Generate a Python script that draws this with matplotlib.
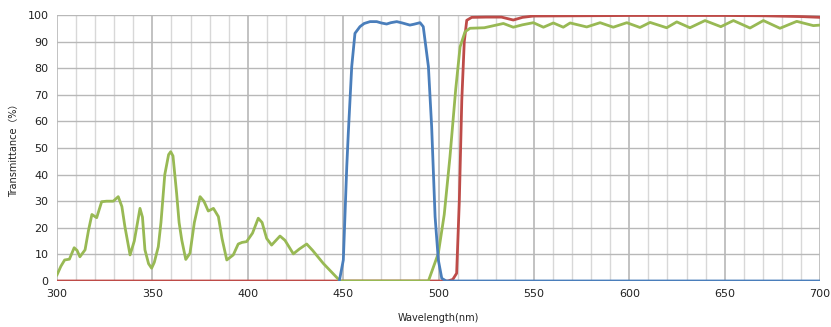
import numpy as np
import matplotlib.pyplot as plt

# wavelength (nm) / transmittance (%)
green_nm = [300, 302, 304, 306.5, 309, 310.5, 312, 314.7, 316.5, 318.3, 320.8, 323.4, 326,
            329.5, 332.1, 334, 335.6, 338.3, 340.5, 343.5, 344.8, 346.1, 348, 349.6, 351,
            353.1, 354.5, 356.5, 358.5, 359.6, 360.8, 362.7, 364, 365.4, 367.5, 369.7,
            372, 375, 377, 379.3, 382, 384.6, 386.5, 389, 392.4, 395, 397, 399.4, 402.5,
            405.5, 407.5, 409.9, 412.5, 416.9, 419.5, 423.9, 427, 430.9, 434, 439.6, 448.4,
            494.7, 499.9, 503, 506, 509, 511.3, 513.9, 516.5, 524, 534, 539.2, 544, 549.7,
            555, 560.2, 565.4, 569, 577.7, 584.7, 591.6, 598.7, 605.6, 610.9, 619.6, 624.9,
            631.8, 639.7, 648, 654.6, 663.3, 670.3, 679, 687.8, 696.5, 700]
green_t = [2.3, 5.5, 7.9, 8.2, 12.5, 11.5, 9.1, 11.7, 19, 25, 23.8, 29.8, 30,
           30, 31.7, 28, 20.4, 9.8, 15, 27.3, 24, 11.7, 6.5, 4.8, 7,
           12.9, 22, 40, 47.5, 48.6, 47, 33, 22, 15.4, 8.1, 10.4,
           22, 31.7, 30, 26.3, 27.3, 24.2, 16, 7.9, 9.8, 13.9, 14.5, 14.8, 18,
           23.6, 22, 16, 13.5, 16.9, 15.3, 10.2, 12, 13.9, 11.5, 6.6, 0,
           0, 10.4, 25, 46.7, 72, 88, 93.7, 95, 95.2, 96.8, 95.4, 96.3, 97.1,
           95.4, 97, 95.4, 97, 95.5, 97.1, 95.4, 97.1, 95.3, 97.2, 95.2, 97.4,
           95.2, 97.9, 95.6, 97.9, 95.1, 97.9, 95, 97.6, 96, 96.2]

red_nm = [300, 450, 505, 507.5, 509.5, 510.9, 512.2, 513.5, 514.8, 517.4, 525, 533,
          539.2, 544, 549.7, 600, 650, 670, 690, 700]
red_t = [0, 0, 0, 0.6, 2.9, 30, 68, 90, 98, 99.1, 99.2, 99.2,
         98.1, 99.1, 99.6, 99.8, 99.8, 99.7, 99.4, 99.1]

blue_nm = [448, 450.1, 451.9, 452.7, 454.5, 456.2, 458.8, 461, 464.1, 467.6, 470,
           472.8, 475, 478.1, 481, 485, 487, 490.3, 492, 494.7, 496.4, 498.2, 499.9,
           501.7, 504, 700]
blue_t = [0, 7.9, 43, 55.5, 80.6, 93.1, 95.6, 96.8, 97.5, 97.5, 97, 96.6, 97.1,
          97.5, 97, 96.2, 96.5, 97.1, 95.6, 80.6, 58, 24.2, 7.9, 1, 0, 0]

fig = plt.figure(figsize=(8.31, 3.27), dpi=100)
ax = fig.add_axes([0.0686, 0.1407, 0.9182, 0.8135])

ax.set_xlim(300, 700)
ax.set_ylim(0, 100)
ax.set_xticks(np.arange(300, 701, 50))
ax.set_xticks(np.arange(300, 701, 10), minor=True)
ax.set_yticks(np.arange(0, 101, 10))
ax.grid(which='major', axis='x', color='#b8b8b8', linewidth=1.2)
ax.grid(which='minor', axis='x', color='#d8d8d8', linewidth=1.0)
ax.grid(which='major', axis='y', color='#b8b8b8', linewidth=1.0)
ax.set_axisbelow(True)
for s in ax.spines.values():
    s.set_visible(False)
ax.tick_params(which='both', length=0, labelsize=8, colors='#222222', pad=6)

ax.plot(red_nm, red_t, color='#be4b48', linewidth=2.0, solid_joinstyle='round', zorder=3)
ax.plot(green_nm, green_t, color='#98b954', linewidth=2.0, solid_joinstyle='round', zorder=4)
ax.plot(blue_nm, blue_t, color='#4a7ebb', linewidth=2.0, solid_joinstyle='round', zorder=5)

ax.set_xlabel('Wavelength(nm)', fontsize=7, color='#222222', labelpad=10)
ax.set_ylabel('Transmittance（%）', fontsize=7, color='#222222', labelpad=6,
              family=['DejaVu Sans', 'Noto Sans CJK SC'])

fig.savefig('out.png', dpi=100)
